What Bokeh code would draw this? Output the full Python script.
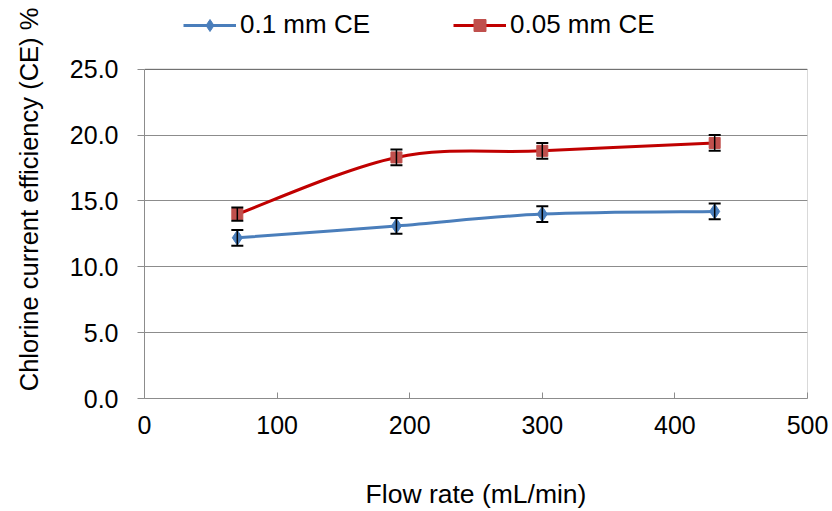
from bokeh.plotting import figure
from bokeh.models import (Range1d, FixedTicker, PrintfTickFormatter, Whisker,
                          ColumnDataSource, Legend, LegendItem, TeeHead,
                          BoxAnnotation)
from bokeh.embed import file_html
from bokeh.resources import INLINE

# ---- data ----
flow_rate = [70, 190, 300, 430]
ce_01 = [12.2, 13.1, 14.0, 14.2]
ce_01_err = [0.6, 0.6, 0.6, 0.6]
ce_005 = [14.0, 18.3, 18.8, 19.4]
ce_005_err = [0.5, 0.6, 0.6, 0.6]
series_names = ["0.1 mm CE", "0.05 mm CE"]
x_ticks = [0, 100, 200, 300, 400, 500]
y_ticks = [0, 5, 10, 15, 20, 25]
x_title = "Flow rate (mL/min)"
y_title = "Chlorine current efficiency (CE) %"

X_MIN, X_MAX = 0, 500
Y_MIN, Y_MAX = 0, 25

FONT = "Liberation Sans"
FS = "25px"
BLUE = "#4a7ebb"
RED = "#c00000"
RED_M = "#c0504d"
GRID = "#8c8c8c"

# layout (pixels)
W, H = 832, 511
LEFT, RIGHT, BOTTOM = 144, 25, 111
PLOT_TOP = 69                      # top of the plotting box
FRAME_H = H - BOTTOM               # frame extends to the top (room for legend)
BOX_H = FRAME_H - PLOT_TOP
Y_END = Y_MAX * FRAME_H / BOX_H    # range end so that Y_MAX sits at PLOT_TOP


def smooth_segments(xs, ys):
    """Bezier control points for a smoothed (Catmull-Rom style) line."""
    n = len(xs)
    d = dict(x0=[], y0=[], x1=[], y1=[], cx0=[], cy0=[], cx1=[], cy1=[])
    for i in range(n - 1):
        xp, yp = (xs[i - 1], ys[i - 1]) if i > 0 else (xs[i], ys[i])
        xn, yn = (xs[i + 2], ys[i + 2]) if i + 2 < n else (xs[i + 1], ys[i + 1])
        d["x0"].append(xs[i]); d["y0"].append(ys[i])
        d["x1"].append(xs[i + 1]); d["y1"].append(ys[i + 1])
        d["cx0"].append(xs[i] + (xs[i + 1] - xp) / 6.0)
        d["cy0"].append(ys[i] + (ys[i + 1] - yp) / 6.0)
        d["cx1"].append(xs[i + 1] - (xn - xs[i]) / 6.0)
        d["cy1"].append(ys[i + 1] - (yn - ys[i]) / 6.0)
    return ColumnDataSource(d)


p = figure(width=W, height=H, output_backend="svg", toolbar_location=None,
           x_range=Range1d(X_MIN, X_MAX), y_range=Range1d(Y_MIN, Y_END),
           min_border_left=LEFT, min_border_right=RIGHT,
           min_border_top=0, min_border_bottom=BOTTOM)

p.outline_line_color = None
p.background_fill_color = "white"
p.border_fill_color = "white"

p.xgrid.grid_line_color = None
p.ygrid.grid_line_color = GRID
p.ygrid.grid_line_width = 1
p.ygrid.ticker = FixedTicker(ticks=y_ticks)

# plotting-area border (top and right edges black)
p.add_layout(BoxAnnotation(left=X_MIN, right=X_MAX, bottom=Y_MIN, top=Y_MAX,
                           fill_alpha=0, line_color="black", line_width=1,
                           level="underlay"))

p.xaxis.ticker = FixedTicker(ticks=x_ticks)
p.yaxis.ticker = FixedTicker(ticks=y_ticks)
p.yaxis.bounds = (Y_MIN, Y_MAX)
p.yaxis.formatter = PrintfTickFormatter(format="%.1f")
p.xaxis.minor_tick_line_color = None
p.yaxis.minor_tick_line_color = None
for ax in (p.xaxis, p.yaxis):
    ax.axis_line_color = GRID
    ax.major_tick_line_color = GRID
    ax.major_label_text_font = FONT
    ax.major_label_text_font_size = FS
    ax.major_label_text_color = "black"
    ax.axis_label_text_font = FONT
    ax.axis_label_text_font_style = "normal"
    ax.axis_label_text_color = "black"
p.xaxis.axis_label_text_font_size = "26.5px"
p.yaxis.axis_label_text_font_size = "25.5px"

p.xaxis.major_tick_in = 6
p.xaxis.major_tick_out = 0
p.xaxis.major_label_standoff = 17
p.xaxis.axis_label = x_title
p.xaxis.axis_label_standoff = 42

p.yaxis.major_tick_in = 0
p.yaxis.major_tick_out = 7
p.yaxis.major_label_standoff = 19
p.yaxis.axis_label = y_title
p.yaxis.axis_label_standoff = 24

src1 = smooth_segments(flow_rate, ce_01)
src2 = smooth_segments(flow_rate, ce_005)
b1 = p.bezier(x0="x0", y0="y0", x1="x1", y1="y1", cx0="cx0", cy0="cy0",
              cx1="cx1", cy1="cy1", source=src1, line_color=BLUE, line_width=3)
b2 = p.bezier(x0="x0", y0="y0", x1="x1", y1="y1", cx0="cx0", cy0="cy0",
              cx1="cx1", cy1="cy1", source=src2, line_color=RED, line_width=3)

m1 = p.scatter(flow_rate, ce_01, marker="diamond", size=15,
               fill_color=BLUE, line_color=BLUE)
m2 = p.scatter(flow_rate, ce_005, marker="square", size=11,
               fill_color=RED_M, line_color=RED_M)

for ys, errs in ((ce_01, ce_01_err), (ce_005, ce_005_err)):
    es = ColumnDataSource(dict(x=flow_rate,
                               lo=[y - e for y, e in zip(ys, errs)],
                               hi=[y + e for y, e in zip(ys, errs)]))
    w = Whisker(base="x", lower="lo", upper="hi", source=es,
                line_color="black", line_width=1.5, level="overlay",
                upper_head=TeeHead(size=12, line_color="black", line_width=2),
                lower_head=TeeHead(size=12, line_color="black", line_width=2))
    p.add_layout(w)

legend = Legend(items=[LegendItem(label=series_names[0], renderers=[b1, m1]),
                       LegendItem(label=series_names[1], renderers=[b2, m2])],
                orientation="horizontal", location=(39, FRAME_H - 42),
                glyph_width=53, glyph_height=30, label_height=30,
                label_standoff=4, spacing=83, padding=0, margin=0,
                border_line_color=None, background_fill_alpha=0,
                label_text_font=FONT, label_text_font_size="26px",
                label_text_color="black")
p.add_layout(legend)

open("out.html", "w").write(file_html(p, INLINE))
